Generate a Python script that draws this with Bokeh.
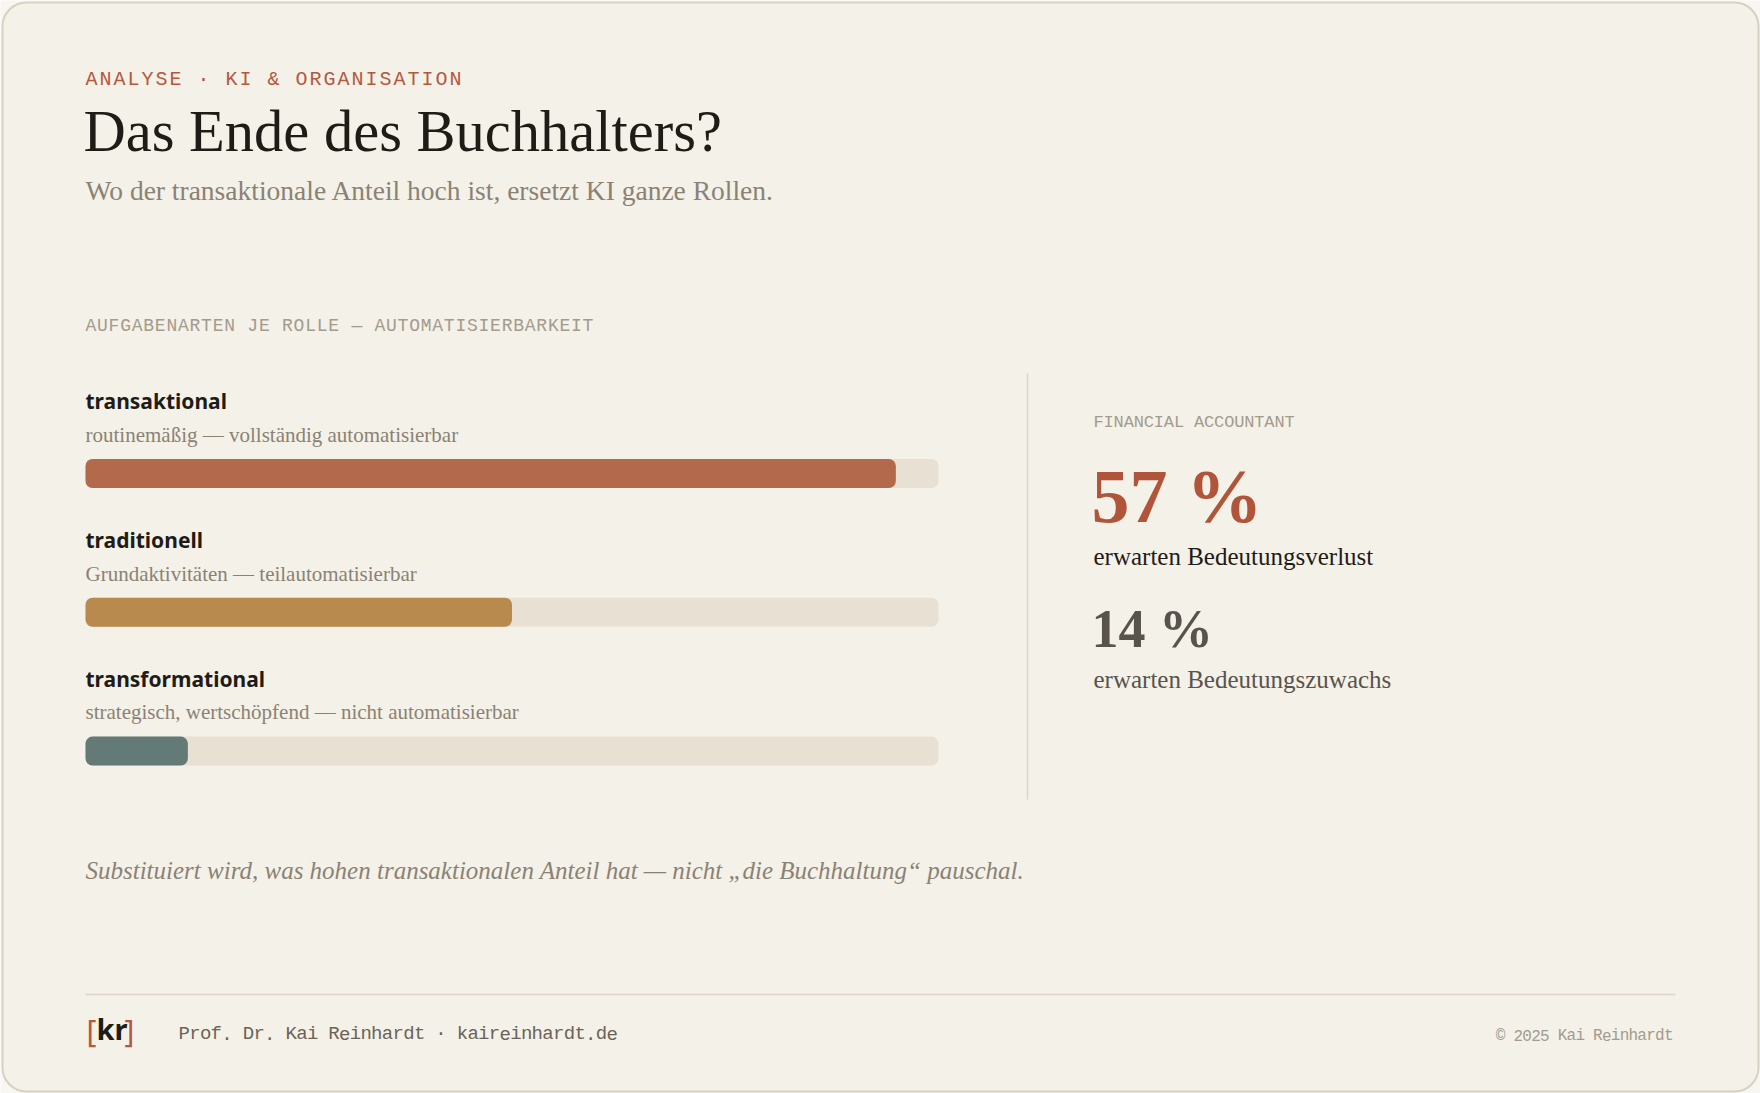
from bokeh.plotting import figure
from bokeh.models import Range1d, ColumnDataSource
from bokeh.core.properties import value
from bokeh.embed import file_html
from bokeh.resources import INLINE

# ---------------- data ----------------
kicker = "ANALYSE · KI & ORGANISATION"
title = "Das Ende des Buchhalters?"
subtitle = "Wo der transaktionale Anteil hoch ist, ersetzt KI ganze Rollen."
section = "AUFGABENARTEN JE ROLLE — AUTOMATISIERBARKEIT"
categories = ["transaktional", "traditionell", "transformational"]
descriptions = [
    "routinemäßig — vollständig automatisierbar",
    "Grundaktivitäten — teilautomatisierbar",
    "strategisch, wertschöpfend — nicht automatisierbar",
]
automation = [95, 50, 12]
bar_colors = ["#b3694c", "#b98a4d", "#647a76"]
role = "FINANCIAL ACCOUNTANT"
stat_values = [57, 14]
stat_labels = ["erwarten Bedeutungsverlust", "erwarten Bedeutungszuwachs"]
footnote = "Substituiert wird, was hohen transaktionalen Anteil hat — nicht „die Buchhaltung“ pauschal."
author = "Prof. Dr. Kai Reinhardt · kaireinhardt.de"
copyright_txt = "© 2025 Kai Reinhardt"

# ---------------- style ----------------
W, H = 1760, 1093
OUT = "#f8f6f1"
CARD = "#f4f1e8"
CARD_LINE = "#d8d1c2"
TRACK = "#e8e0d3"
RED = "#b5583f"
INK = "#1f1b17"
GRAY = "#8a8275"
LIGHT = "#a39b8d"
SERIF = "Liberation Serif"
SANS = "Noto Sans"
MONO = "Liberation Mono"
K_SERIF = 0.37   # baseline correction (fraction of font size)
K_SANS = 0.43

TX0, TW = 85, 853          # bar track left edge / width in px
SC = TW / 100.0


def Y(v):
    return H - v


p = figure(width=W, height=H, x_range=Range1d(0, W), y_range=Range1d(0, H),
           min_border=0, toolbar_location=None, output_backend="svg",
           background_fill_color=OUT, border_fill_color=OUT, outline_line_color=None)
p.axis.visible = False
p.grid.visible = False
p.extra_x_ranges = {"pct": Range1d(start=-TX0 / SC, end=(W - TX0) / SC)}

# card
p.quad(left=[2], right=[W - 2], bottom=[Y(1091)], top=[Y(2)], fill_color=CARD,
       line_color=CARD_LINE, line_width=2, border_radius=24)


def txt(x, y, s, size, color, font=SERIF, style="normal", align="left"):
    k = K_SANS if font == SANS else K_SERIF
    p.text(x=[x], y=[Y(y - k * size)], text=[s], text_font=value(font), text_font_size=f"{size}px",
           text_font_style=style, text_color=color, text_align=align, text_baseline="alphabetic")


def mono(x, y, s, size, adv, color, align="left"):
    n = len(s)
    if align == "right":
        x = x - (n - 1) * adv - 0.6 * size
    xs = [x + i * adv for i in range(n)]
    p.text(x=xs, y=[Y(y - K_SERIF * size)] * n, text=list(s), text_font=value(MONO),
           text_font_size=f"{size}px", text_color=color, text_align="left",
           text_baseline="alphabetic")


# header
mono(85, 86, kicker, 20, 14.0, RED)
txt(83, 153, title, 58.5, INK)
txt(85, 200, subtitle, 27.5, GRAY)
mono(85, 332, section, 18, 11.56, LIGHT)

# bar rows
STEP = 138.8
label_y = [Y(410 - K_SANS * 21 + i * STEP) for i in range(len(categories))]
desc_y = [Y(442 - K_SERIF * 21 + i * STEP) for i in range(len(categories))]
bar_y = [Y(473 + i * STEP) for i in range(len(categories))]

p.text(x=[85] * 3, y=label_y, text=categories, text_font=value(SANS),
       text_font_size="21px", text_font_style="bold", text_color=INK, text_baseline="alphabetic")
p.text(x=[85] * 3, y=desc_y, text=descriptions, text_font=value(SERIF),
       text_font_size="21px", text_color=GRAY, text_baseline="alphabetic")

src = ColumnDataSource(dict(y=bar_y, v=automation, c=bar_colors, full=[100] * 3))
p.hbar(y="y", left=0, right="full", height=29, source=src, x_range_name="pct",
       fill_color=TRACK, line_color=None, border_radius=7)
p.hbar(y="y", left=0, right="v", height=29, source=src, x_range_name="pct",
       fill_color="c", line_color=None, border_radius=7)

# divider
p.segment(x0=[1027], y0=[Y(373)], x1=[1027], y1=[Y(799)], line_color="#ddd6c8", line_width=1.5)

# stats
mono(1093, 428, role, 17, 10.05, LIGHT)
txt(1091, 524, f"{stat_values[0]} %", 76, "#b0553a", style="bold")
txt(1093, 565, stat_labels[0], 25, INK)
txt(1091, 648, f"{stat_values[1]} %", 54, "#58534d", style="bold")
txt(1093, 688, stat_labels[1], 25, "#58534d")

# footnote
txt(85, 879, footnote, 25, GRAY, style="italic")

# footer
p.segment(x0=[85], y0=[Y(994)], x1=[1675], y1=[Y(994)], line_color="#ddd6c8", line_width=1.5)
txt(86, 1043, "[", 30, RED, font=SANS)
txt(96, 1040, "kr", 29, INK, font=SANS, style="bold")
txt(124, 1043, "]", 30, RED, font=SANS)
mono(178, 1041, author, 19, 10.7, "#6b6357")
mono(1673, 1041, copyright_txt, 16, 8.85, LIGHT, align="right")

open("out.html", "w").write(file_html(p, INLINE))
